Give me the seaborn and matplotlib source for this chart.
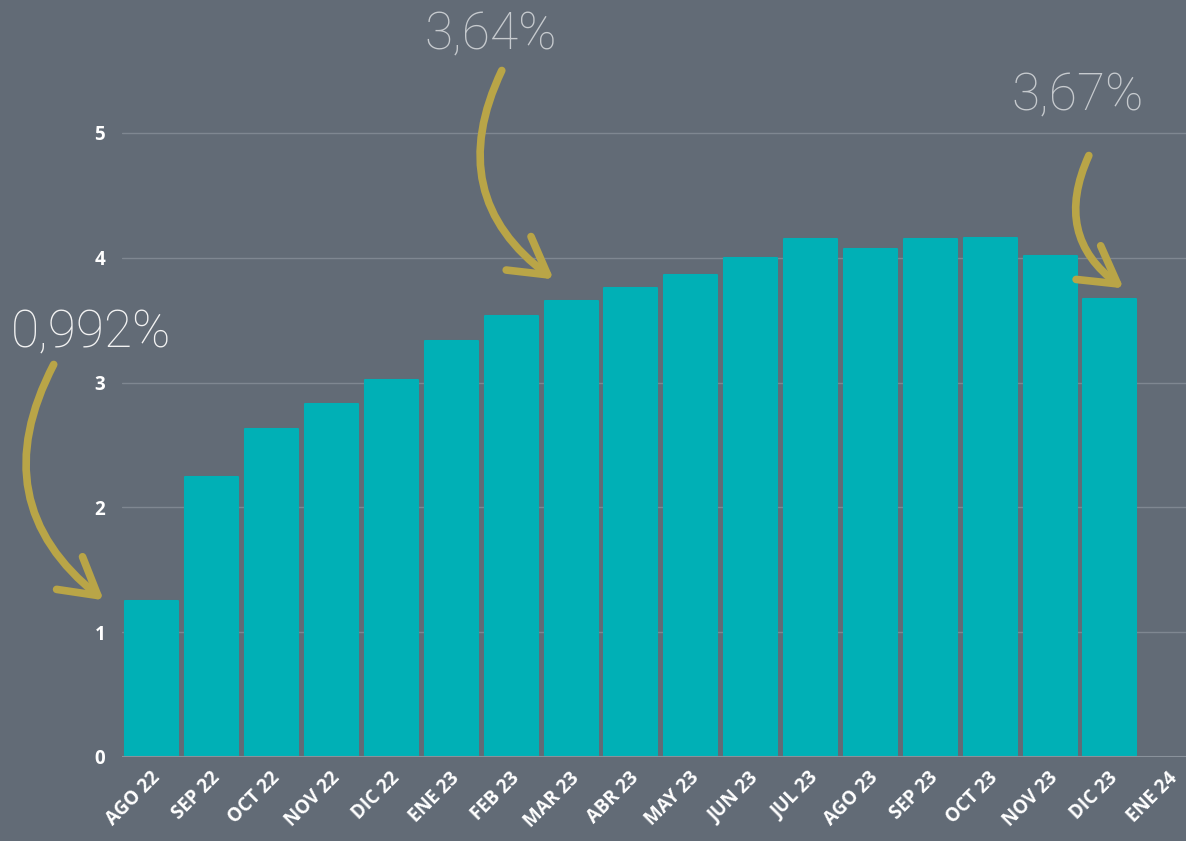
import matplotlib
matplotlib.use("Agg")
import matplotlib.pyplot as plt
import matplotlib.transforms as mtrans
import seaborn as sns
import numpy as np
import pandas as pd
from matplotlib.patches import FancyArrowPatch

months = ["AGO 22", "SEP 22", "OCT 22", "NOV 22", "DIC 22", "ENE 23", "FEB 23",
          "MAR 23", "ABR 23", "MAY 23", "JUN 23", "JUL 23", "AGO 23", "SEP 23",
          "OCT 23", "NOV 23", "DIC 23", "ENE 24"]
values = [1.25, 2.24, 2.63, 2.83, 3.02, 3.33, 3.53, 3.65, 3.76, 3.86, 4.00,
          4.15, 4.07, 4.15, 4.16, 4.01, 3.67, np.nan]
yticks = [0, 1, 2, 3, 4, 5]
notes = ["0,992%", "3,64%", "3,67%"]

BG = "#626b76"
BAR = "#00b0b6"
GOLD = "#b9a547"

sns.set_style("white")
plt.rcParams["font.family"] = ["Open Sans", "DejaVu Sans"]

fig = plt.figure(figsize=(11.86, 8.41), dpi=100, facecolor=BG)
ax = fig.add_axes([122 / 1186, 1 - 757 / 841, 1 - 122 / 1186, (757 - 8) / 841])
ax.set_facecolor(BG)

df = pd.DataFrame({"mes": months, "valor": values})
sns.barplot(data=df, x="mes", y="valor", order=months, color=BAR, width=0.885,
            saturation=1, ax=ax, zorder=3)
for p in ax.patches:
    p.set_edgecolor(BAR)
    p.set_linewidth(1.5)
    p.set_joinstyle("round")

ax.set_xlim(-0.5, 17.27)
ax.set_ylim(0, 6)
ax.set_yticks(yticks)
ax.set_yticklabels([str(t) for t in yticks], color="white", fontsize=13.5, fontweight="bold")
ax.tick_params(axis="y", length=0, pad=12)
ax.tick_params(axis="x", length=0, pad=13)
offset = mtrans.ScaledTranslation(5 / 100, 0, fig.dpi_scale_trans)
for lab in ax.get_xticklabels():
    lab.set_rotation(45)
    lab.set_ha("right")
    lab.set_va("center")
    lab.set_rotation_mode("anchor")
    lab.set_color("white")
    lab.set_fontsize(13.5)
    lab.set_fontweight("bold")
    lab.set_transform(lab.get_transform() + offset)
ax.set_xlabel("")
ax.set_ylabel("")
for y in yticks[1:]:
    ax.axhline(y, color="#7f8791", lw=1, zorder=1)
ax.axhline(0, color="#8a929b", lw=1.5, zorder=4)
for s in ax.spines.values():
    s.set_visible(False)

def fx(px):
    return px / 1186

def fy(py):
    return 1 - py / 841

tfam = ["Roboto", "DejaVu Sans"]
fig.text(fx(91), fy(333), notes[0], color="#f2f2f2", fontsize=37, fontweight="light",
         ha="center", va="center", family=tfam)
fig.text(fx(491), fy(35), notes[1], color="#c6cace", fontsize=37, fontweight="light",
         ha="center", va="center", family=tfam)
fig.text(fx(1078), fy(96), notes[2], color="#c6cace", fontsize=37, fontweight="light",
         ha="center", va="center", family=tfam)

arrows = [((55, 362), (106, 602), 0.42),
          ((503, 68), (556, 281), 0.42),
          ((1090, 153), (1126, 290), 0.42)]
for (x0, y0), (x1, y1), rad in arrows:
    a = FancyArrowPatch((fx(x0), fy(y0)), (fx(x1), fy(y1)), transform=fig.transFigure,
                        connectionstyle=f"arc3,rad={rad}",
                        arrowstyle="->,head_length=1.3,head_width=0.75",
                        color=GOLD, lw=5.5, capstyle="round", joinstyle="round",
                        mutation_scale=20, zorder=10)
    fig.add_artist(a)

fig.savefig("out.png", dpi=100, facecolor=BG)
